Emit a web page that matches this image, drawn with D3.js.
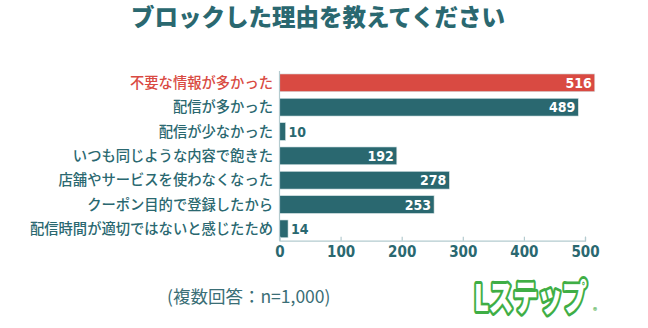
<!DOCTYPE html>
<html>
<head>
<meta charset="utf-8">
<script src="https://cdn.jsdelivr.net/npm/d3@7/dist/d3.min.js"></script>
<style>
  html, body { margin: 0; padding: 0; background: #fff; }
  svg { display: block; }
</style>
</head>
<body>
<svg id="chart" width="648" height="328"></svg>
<script>
// Survey: reasons for blocking an account (multiple answers, n=1,000)
const categories = [
  "不要な情報が多かった",
  "配信が多かった",
  "配信が少なかった",
  "いつも同じような内容で飽きた",
  "店舗やサービスを使わなくなった",
  "クーポン目的で登録したから",
  "配信時間が適切ではないと感じたため"
];
const values = [516, 489, 10, 192, 278, 253, 14];
const highlighted = ["不要な情報が多かった"];
const tickValues = [0, 100, 200, 300, 400, 500];
const titleText = "ブロックした理由を教えてください";
const noteText = "(複数回答：n=1,000)";

const teal = "#2a6870";
const red = "#d94a42";
const axisColor = "#b4cbcf";
const jp = "'Noto Sans CJK JP', 'Noto Sans', sans-serif";
const numFont = "'DejaVu Sans Condensed', 'DejaVu Sans', sans-serif";

const data = categories.map((c, i) => ({ cat: c, value: values[i], hi: highlighted.includes(c) }));

const svg = d3.select("#chart");

const x = d3.scaleLinear().domain([0, 500]).range([279.5, 585]);
const y = d3.scaleBand().domain(categories).range([70.3, 241.4])
  .paddingInner(0.27).paddingOuter(0.15);
const baseY = 240.7;

// Title
svg.append("text")
  .attr("x", 318).attr("y", 26)
  .attr("text-anchor", "middle")
  .attr("font-family", jp).attr("font-weight", 900)
  .attr("font-size", 23.5).attr("fill", teal)
  .text(titleText);

// Bars
svg.append("g").selectAll("rect").data(data).join("rect")
  .attr("x", x(0))
  .attr("y", d => y(d.cat))
  .attr("width", d => x(d.value) - x(0))
  .attr("height", y.bandwidth())
  .attr("fill", d => d.hi ? red : teal)
  .attr("stroke", "#d7e5e7").attr("stroke-width", 0.6);

// Category labels
svg.append("g").selectAll("text").data(data).join("text")
  .attr("x", 273)
  .attr("y", d => y(d.cat) + y.bandwidth() / 2)
  .attr("dy", "0.36em")
  .attr("text-anchor", "end")
  .attr("font-family", jp).attr("font-weight", 500)
  .attr("font-size", 14.3)
  .attr("fill", d => d.hi ? red : teal)
  .text(d => d.cat);

// Value labels: inside long bars, outside short ones
const inside = d => x(d.value) - x(0) > 40;
svg.append("g").selectAll("text").data(data).join("text")
  .attr("x", d => inside(d) ? x(d.value) - 3 : x(d.value) + 3)
  .attr("y", d => y(d.cat) + y.bandwidth() / 2)
  .attr("dy", "0.36em")
  .attr("text-anchor", d => inside(d) ? "end" : "start")
  .attr("font-family", numFont).attr("font-weight", "bold")
  .attr("font-size", 14)
  .attr("fill", d => inside(d) ? "#ffffff" : teal)
  .text(d => d.value);

// Vertical baseline
svg.append("line")
  .attr("x1", x(0)).attr("x2", x(0))
  .attr("y1", 71).attr("y2", baseY)
  .attr("stroke", axisColor).attr("stroke-width", 1.2);

// X axis
const xAxis = d3.axisBottom(x).tickValues(tickValues).tickSize(-4).tickPadding(6).tickFormat(d3.format("d"));
const gx = svg.append("g").attr("transform", `translate(0,${baseY})`).call(xAxis);
gx.select(".domain").attr("stroke", axisColor).attr("stroke-width", 1.2);
gx.selectAll(".tick line").attr("stroke", axisColor).attr("stroke-width", 1.2);
gx.selectAll(".tick text")
  .attr("font-family", numFont).attr("font-weight", "bold")
  .attr("font-size", 15).attr("fill", teal);

// Footnote
svg.append("text")
  .attr("x", 167).attr("y", 303)
  .attr("font-family", jp).attr("font-weight", 400)
  .attr("font-size", 17.5).attr("fill", "#3a6e76")
  .text(noteText);

// Logo: outlined lettering, stretched vertically
const logo = svg.append("g");
logo.append("text")
  .attr("transform", "translate(474,311) scale(1,1.45)")
  .attr("font-family", jp).attr("font-weight", 900)
  .attr("font-size", 25).attr("letter-spacing", -0.5)
  .attr("fill", "#ffffff").attr("stroke", "#3fae45").attr("stroke-width", 4)
  .attr("stroke-linejoin", "round").attr("paint-order", "stroke")
  .text("Lステップ");
logo.append("text")
  .attr("x", 593).attr("y", 314)
  .attr("font-family", jp).attr("font-weight", 700)
  .attr("font-size", 8).attr("fill", "#3fae45")
  .text("®");
</script>
</body>
</html>
